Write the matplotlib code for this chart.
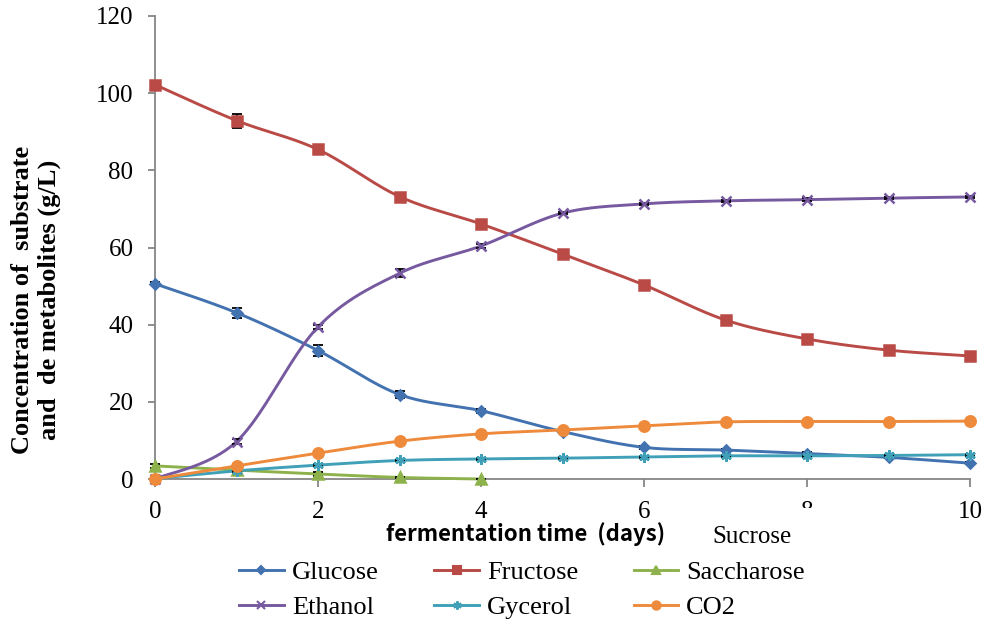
import numpy as np
import matplotlib.pyplot as plt
from matplotlib.lines import Line2D
from matplotlib.patches import Rectangle

# fermentation kinetics, g/L per day
days = [0, 1, 2, 3, 4, 5, 6, 7, 8, 9, 10]
glucose = [50.6, 43.1, 33.3, 21.9, 17.7, 12.3, 8.2, 7.5, 6.6, 5.6, 4.1]
fructose = [102.2, 92.9, 85.4, 73.2, 66.1, 58.3, 50.3, 41.2, 36.3, 33.4, 31.9]
saccharose = [3.4, 2.3, 1.3, 0.4, 0.0]
ethanol = [0.0, 9.7, 39.4, 53.3, 60.4, 68.9, 71.3, 72.1, 72.4, 72.8, 73.1]
glycerol = [0.1, 2.1, 3.6, 4.8, 5.2, 5.4, 5.7, 6.0, 6.0, 6.1, 6.3]
co2 = [0.0, 3.4, 6.7, 9.8, 11.7, 12.7, 13.8, 14.8, 14.9, 14.9, 15.0]

# standard deviations
glucose_sd = [0.4, 1.3, 1.5, 0.8, 0.5, 0.3, 0.3, 0.3, 0.3, 0.2, 0.3]
fructose_sd = [0.6, 1.8, 0.7, 0.7, 0.5, 0.4, 0.4, 0.3, 0.3, 0.3, 0.3]
saccharose_sd = [0.6, 0.3, 0.4, 0.2, 0.1]
ethanol_sd = [0.2, 0.6, 0.4, 1.0, 0.4, 0.3, 0.3, 0.3, 0.3, 0.3, 0.3]
glycerol_sd = [0.1, 0.3, 0.3, 0.2, 0.2, 0.2, 0.2, 0.2, 0.2, 0.2, 0.3]
co2_sd = [0.1, 0.2, 0.2, 0.2, 0.2, 0.2, 0.2, 0.2, 0.2, 0.2, 0.2]

labels = ["Glucose", "Fructose", "Saccharose", "Ethanol", "Gycerol", "CO2"]
colors = ["#4272B0", "#B94A46", "#8DB24B", "#7759A0", "#40A0B8", "#EE8A3C"]
markers = ["D", "s", "^", "x", (6, 2, 0), "o"]
msizes = [5.5, 7, 7.5, 6.5, 7.5, 7.5]

serif = "Liberation Serif"


def smooth(x, y, n=40):
    # excel style smoothed line: bezier segments with catmull-rom handles
    x = np.asarray(x, float)
    y = np.asarray(y, float)
    P = np.column_stack([x, y])
    ext = np.vstack([P[0], P, P[-1]])
    t = np.linspace(0, 1, n)[:, None]
    out = []
    for i in range(len(P) - 1):
        p0 = P[i]
        p3 = P[i + 1]
        c1 = p0 + (ext[i + 2] - ext[i]) / 6
        c2 = p3 - (ext[i + 3] - ext[i + 1]) / 6
        seg = ((1 - t) ** 3) * p0 + 3 * ((1 - t) ** 2) * t * c1 + 3 * (1 - t) * t ** 2 * c2 + t ** 3 * p3
        out.append(seg if i == 0 else seg[1:])
    out = np.vstack(out)
    return out[:, 0], out[:, 1]


fig = plt.figure(figsize=(9.88, 6.28), dpi=100)
ax = fig.add_axes([155 / 988, 1 - 479 / 628, 815 / 988, 463 / 628])

series = [
    (days, glucose, glucose_sd),
    (days, fructose, fructose_sd),
    (days[:len(saccharose)], saccharose, saccharose_sd),
    (days, ethanol, ethanol_sd),
    (days, glycerol, glycerol_sd),
    (days, co2, co2_sd),
]

for k, (x, y, sd) in enumerate(series):
    z = 3 + k
    sx, sy = smooth(x, y)
    ax.plot(sx, sy, color=colors[k], lw=2.1, zorder=z, clip_on=False)
    ax.errorbar(x, y, yerr=sd, fmt="none", ecolor="black", elinewidth=1.3,
                capsize=3.3, capthick=1.3, zorder=z, clip_on=False)
    ax.plot(x, y, ls="none", marker=markers[k], ms=msizes[k], color=colors[k],
            mec=colors[k], mew=1.8, zorder=z + 0.5, clip_on=False)

ax.set_xlim(0, 10)
ax.set_ylim(0, 120)
ax.set_xticks(range(0, 11, 2))
ax.set_yticks(range(0, 121, 20))
for s in ["top", "right"]:
    ax.spines[s].set_visible(False)
for s in ["left", "bottom"]:
    ax.spines[s].set_color("#868686")
    ax.spines[s].set_linewidth(1.3)
ax.tick_params(axis="y", direction="out", length=5, width=1.3, color="#868686",
               pad=10.5, labelsize=18)
ax.tick_params(axis="x", direction="out", length=6, width=1.3, color="#868686",
               pad=10, labelsize=18)
for lab in ax.get_xticklabels() + ax.get_yticklabels():
    lab.set_fontfamily(serif)

# axis titles
fig.text(36 / 988, 1 - 300 / 628, "Concentration of  substrate\nand  de metabolites (g/L)",
         rotation=90, ha="center", va="center", multialignment="center",
         family=serif, weight="bold", fontsize=19, linespacing=1.2)
fig.text(526 / 988, 1 - 534 / 628, "fermentation time  (days)", ha="center", va="center",
         family=["Noto Sans CJK KR", "DejaVu Sans"], weight="bold", fontsize=16)

# stray text box sitting over the axis labels
fig.patches.append(Rectangle((705 / 988, 1 - 556 / 628), 120 / 988, 48 / 628,
                             transform=fig.transFigure, facecolor="white",
                             edgecolor="none", zorder=5))
fig.text(752 / 988, 1 - 537 / 628, "Sucrose", ha="center", va="center",
         family=serif, fontsize=18, zorder=6)

handles = [Line2D([], [], color=colors[k], lw=2.1, marker=markers[k], ms=msizes[k] * 0.8,
                  mec=colors[k], mew=1.5) for k in range(6)]
# legend fills column by column, so interleave to read row by row
order = [0, 3, 1, 4, 2, 5]
fig.legend([handles[i] for i in order], [labels[i] for i in order], ncol=3, loc="center",
           bbox_to_anchor=(522 / 988, 1 - 590 / 628), frameon=False,
           prop={"family": serif, "size": 19}, handlelength=1.7,
           handletextpad=0.3, columnspacing=2.1, labelspacing=0.45)

fig.savefig("out.png", dpi=100)
